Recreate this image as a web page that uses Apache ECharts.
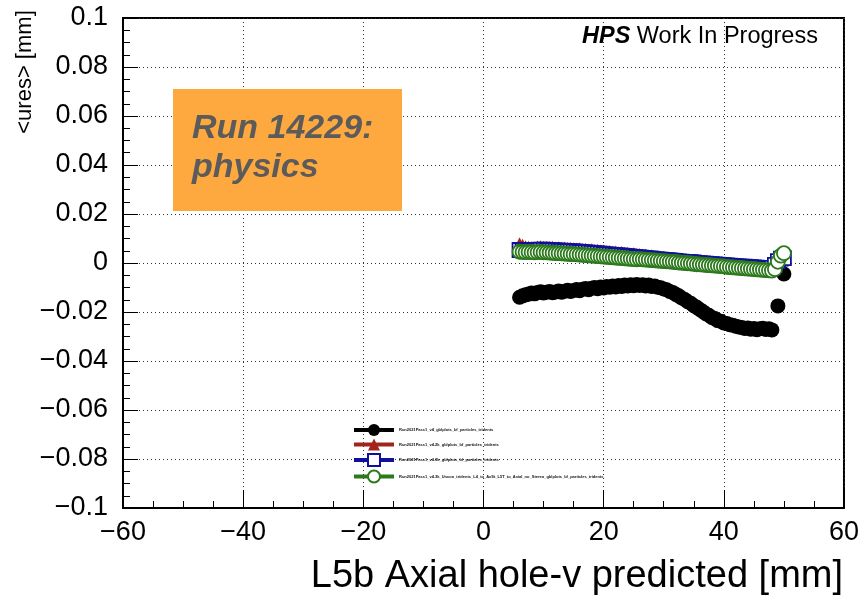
<!DOCTYPE html>
<html>
<head>
<meta charset="utf-8">
<title>L5b Axial hole-v residuals</title>
<script src="https://cdn.jsdelivr.net/npm/echarts@6/dist/echarts.min.js"></script>
<style>
  html, body { margin: 0; padding: 0; background: #fff; }
  #chart { width: 862px; height: 597px; }
</style>
</head>
<body>
<div id="chart"></div>
<script>
// Predicted hole-v position on L5b Axial [mm], 0.5 mm bins
const xPred = [
  6.0, 6.5, 7.0, 7.5, 8.0, 8.5, 9.0, 9.5, 10.0, 10.5,
  11.0, 11.5, 12.0, 12.5, 13.0, 13.5, 14.0, 14.5, 15.0, 15.5,
  16.0, 16.5, 17.0, 17.5, 18.0, 18.5, 19.0, 19.5, 20.0, 20.5,
  21.0, 21.5, 22.0, 22.5, 23.0, 23.5, 24.0, 24.5, 25.0, 25.5,
  26.0, 26.5, 27.0, 27.5, 28.0, 28.5, 29.0, 29.5, 30.0, 30.5,
  31.0, 31.5, 32.0, 32.5, 33.0, 33.5, 34.0, 34.5, 35.0, 35.5,
  36.0, 36.5, 37.0, 37.5, 38.0, 38.5, 39.0, 39.5, 40.0, 40.5,
  41.0, 41.5, 42.0, 42.5, 43.0, 43.5, 44.0, 44.5, 45.0, 45.5,
  46.0, 46.5, 47.0, 47.5, 48.0, 48.5, 49.0, 49.5, 50.0
];

// Mean u residual <ures> [mm] per bin, one list per reconstruction pass (null = empty bin)
const uresV4 = [
  -0.0140, -0.0134, -0.0130, -0.0127, -0.0122, -0.0126, -0.0120, -0.0117, -0.0122, -0.0119,
  -0.0116, -0.0121, -0.0118, -0.0114, -0.0119, -0.0115, -0.0111, -0.0116, -0.0112, -0.0108,
  -0.0113, -0.0107, -0.0104, -0.0109, -0.0103, -0.0100, -0.0105, -0.0098, -0.0102, -0.0096,
  -0.0099, -0.0094, -0.0098, -0.0092, -0.0096, -0.0090, -0.0094, -0.0089, -0.0093, -0.0088,
  -0.0092, -0.0089, -0.0094, -0.0090, -0.0096, -0.0094, -0.0099, -0.0101, -0.0106, -0.0109,
  -0.0116, -0.0120, -0.0128, -0.0134, -0.0143, -0.0149, -0.0158, -0.0164, -0.0174, -0.0181,
  -0.0190, -0.0198, -0.0207, -0.0213, -0.0222, -0.0227, -0.0235, -0.0238, -0.0245, -0.0247,
  -0.0252, -0.0254, -0.0258, -0.0261, -0.0263, -0.0267, -0.0265, -0.0270, -0.0267, -0.0272,
  -0.0268, -0.0266, -0.0271, -0.0268, -0.0273, null, -0.0175, null, -0.0045
];

const uresV42k = [
  0.0079, 0.0072, 0.0066, 0.0064, 0.0063, 0.0062, 0.0065, 0.0066, 0.0064, 0.0063,
  0.0063, 0.0064, 0.0061, 0.0062, 0.0060, 0.0061, 0.0059, 0.0060, 0.0058, 0.0057,
  0.0058, 0.0055, 0.0056, 0.0053, 0.0054, 0.0051, 0.0052, 0.0049, 0.0049, 0.0046,
  0.0047, 0.0044, 0.0045, 0.0042, 0.0043, 0.0040, 0.0040, 0.0037, 0.0038, 0.0035,
  0.0035, 0.0032, 0.0033, 0.0030, 0.0030, 0.0026, 0.0027, 0.0023, 0.0023, 0.0021,
  0.0020, 0.0017, 0.0017, 0.0013, 0.0012, 0.0010, 0.0009, 0.0008, 0.0007, 0.0005,
  0.0004, 0.0003, 0.0002, 0.0001, 0.0000, -0.0001, -0.0002, -0.0003, -0.0004, -0.0005,
  -0.0006, -0.0007, -0.0008, -0.0009, -0.0010, -0.0010, -0.0011, -0.0012, -0.0013, -0.0014,
  -0.0015, -0.0016, -0.0017, -0.0017, -0.0012, 0.0000, 0.0025, 0.0042, 0.0040
];

const uresV43k = [
  0.0053, 0.0052, 0.0051, 0.0052, 0.0052, 0.0051, 0.0052, 0.0054, 0.0054, 0.0053,
  0.0052, 0.0052, 0.0051, 0.0050, 0.0050, 0.0049, 0.0048, 0.0048, 0.0047, 0.0046,
  0.0045, 0.0044, 0.0043, 0.0042, 0.0041, 0.0040, 0.0039, 0.0038, 0.0036, 0.0035,
  0.0034, 0.0033, 0.0032, 0.0031, 0.0030, 0.0029, 0.0028, 0.0026, 0.0025, 0.0024,
  0.0023, 0.0021, 0.0020, 0.0019, 0.0018, 0.0016, 0.0015, 0.0014, 0.0013, 0.0012,
  0.0011, 0.0010, 0.0009, 0.0007, 0.0006, 0.0005, 0.0004, 0.0003, 0.0002, 0.0000,
  -0.0001, -0.0002, -0.0003, -0.0004, -0.0005, -0.0006, -0.0007, -0.0008, -0.0009, -0.0010,
  -0.0011, -0.0012, -0.0013, -0.0014, -0.0015, -0.0015, -0.0016, -0.0017, -0.0018, -0.0019,
  -0.0020, -0.0021, -0.0022, -0.0022, -0.0020, -0.0008, 0.0008, 0.0018, 0.0020
];

const uresV43kUncon = [
  0.0046, 0.0045, 0.0044, 0.0045, 0.0044, 0.0043, 0.0044, 0.0045, 0.0043, 0.0043,
  0.0042, 0.0041, 0.0040, 0.0040, 0.0039, 0.0038, 0.0037, 0.0036, 0.0036, 0.0035,
  0.0034, 0.0033, 0.0032, 0.0031, 0.0030, 0.0029, 0.0028, 0.0027, 0.0026, 0.0025,
  0.0024, 0.0023, 0.0022, 0.0021, 0.0020, 0.0019, 0.0018, 0.0017, 0.0016, 0.0015,
  0.0016, 0.0015, 0.0014, 0.0013, 0.0012, 0.0011, 0.0010, 0.0009, 0.0008, 0.0007,
  0.0006, 0.0005, 0.0004, 0.0002, 0.0001, 0.0000, -0.0001, -0.0002, -0.0003, -0.0005,
  -0.0006, -0.0007, -0.0008, -0.0009, -0.0010, -0.0011, -0.0012, -0.0013, -0.0014, -0.0016,
  -0.0017, -0.0018, -0.0019, -0.0020, -0.0021, -0.0022, -0.0023, -0.0024, -0.0025, -0.0026,
  -0.0027, -0.0028, -0.0029, -0.0030, -0.0031, -0.0025, 0.0005, 0.0030, 0.0040
];

const seriesNames = [
  'Run2021Pass1_v4_gblplots_bf_particles_tridents',
  'Run2021Pass1_v4.2k_gblplots_bf_particles_tridents',
  'Run2021Pass1_v4.3k_gblplots_bf_particles_tridents',
  'Run2021Pass1_v4.3k_Uncon_tridents_L4_to_AxSt_L5T_to_Axial_no_Stereo_gblplots_bf_particles_tridents'
];

// Axis ranges and tick steps
const xRange = [-60, 60];
const xStep = 20;
const yRange = [-0.1, 0.1];
const yStep = 0.02;

const FONT = '"Liberation Sans", Arial, Helvetica, sans-serif';
const BLACK = '#000000';
const RED = '#a3241b';
const BLUE = '#10109c';
const GREEN = '#2c7a1c';

function tickText(v) {
  return String(+(+v).toFixed(3)).replace('-', '\u2212');
}

function profile(name, values, symbol, size, color, filled, z) {
  return {
    name: name,
    type: 'line',
    data: xPred.map((x, i) => [x, values[i] === null ? '-' : values[i]]),
    symbol: symbol,
    symbolSize: size,
    showAllSymbol: true,
    connectNulls: false,
    lineStyle: { color: color, width: 4, opacity: 0 },
    itemStyle: filled
      ? { color: color }
      : { color: '#ffffff', borderColor: color, borderWidth: 1.8 },
    emphasis: { disabled: true },
    animation: false,
    z: z
  };
}

const chart = echarts.init(document.getElementById('chart'), null, { renderer: 'canvas' });

const axisCommon = {
  axisLine: { show: true, onZero: false, lineStyle: { color: '#000', width: 2 } },
  minorTick: { show: true, splitNumber: 4, length: 7, lineStyle: { color: '#000', width: 1 } },
  splitLine: { show: true, lineStyle: { color: '#333', width: 1, type: [1, 3] } }
};

chart.setOption({
  animation: false,
  backgroundColor: '#ffffff',
  textStyle: { fontFamily: FONT },
  grid: {
    left: 123, right: 17, top: 18, bottom: 89,
    show: true, borderColor: '#000', borderWidth: 2, backgroundColor: 'transparent'
  },
  xAxis: Object.assign({}, axisCommon, {
    type: 'value',
    min: xRange[0], max: xRange[1], interval: xStep,
    axisTick: { show: true, inside: true, length: 18, lineStyle: { color: '#000', width: 1 } },
    axisLabel: { fontSize: 27, color: '#000', fontFamily: FONT, margin: 11, formatter: tickText }
  }),
  yAxis: Object.assign({}, axisCommon, {
    type: 'value',
    min: yRange[0], max: yRange[1], interval: yStep,
    axisTick: { show: true, inside: true, length: 15, lineStyle: { color: '#000', width: 1 } },
    axisLabel: { fontSize: 27, color: '#000', fontFamily: FONT, margin: 15, formatter: tickText }
  }),
  legend: {
    orient: 'vertical',
    left: 352, top: 424,
    padding: 0,
    itemWidth: 40, itemHeight: 15, itemGap: 2.5,
    selectedMode: false,
    textStyle: { fontSize: 4, color: '#111', fontFamily: FONT, fontWeight: 'bold' },
    lineStyle: { width: 4, opacity: 1 },
    data: seriesNames
  },
  series: [
    profile(seriesNames[0], uresV4, 'circle', 15, BLACK, true, 2),
    profile(seriesNames[1], uresV42k, 'triangle', 13, RED, true, 3),
    profile(seriesNames[2], uresV43k, 'rect', 14, BLUE, false, 4),
    profile(seriesNames[3], uresV43kUncon, 'circle', 14, GREEN, false, 5)
  ],
  graphic: [
    {
      type: 'rect', z: 10,
      shape: { x: 173, y: 89, width: 229, height: 122 },
      style: { fill: '#fda940' }
    },
    {
      type: 'text', z: 11, x: 192, y: 129,
      style: {
        text: 'Run 14229:', fill: '#5b5b5b',
        font: 'italic bold 34px ' + FONT,
        align: 'left', verticalAlign: 'middle'
      }
    },
    {
      type: 'text', z: 11, x: 192, y: 168,
      style: {
        text: 'physics', fill: '#5b5b5b',
        font: 'italic bold 34px ' + FONT,
        align: 'left', verticalAlign: 'middle'
      }
    },
    {
      type: 'text', z: 11, x: 582, y: 37,
      style: {
        text: '{hps|HPS} Work In Progress',
        fill: '#000', font: '23.5px ' + FONT,
        align: 'left', verticalAlign: 'middle',
        rich: {
          hps: { fontStyle: 'italic', fontWeight: 'bold', fontSize: 23.5, fontFamily: FONT, fill: '#000' }
        }
      }
    },
    {
      type: 'text', z: 11, x: 843, y: 577,
      style: {
        text: 'L5b Axial hole-v predicted [mm]', fill: '#000',
        font: '38px ' + FONT, align: 'right', verticalAlign: 'middle'
      }
    },
    {
      type: 'text', z: 11, x: 25, y: 72, rotation: Math.PI / 2,
      style: {
        text: '<ures> [mm]', fill: '#000',
        font: '22px ' + FONT, align: 'center', verticalAlign: 'middle'
      }
    }
  ]
});
</script>
</body>
</html>
